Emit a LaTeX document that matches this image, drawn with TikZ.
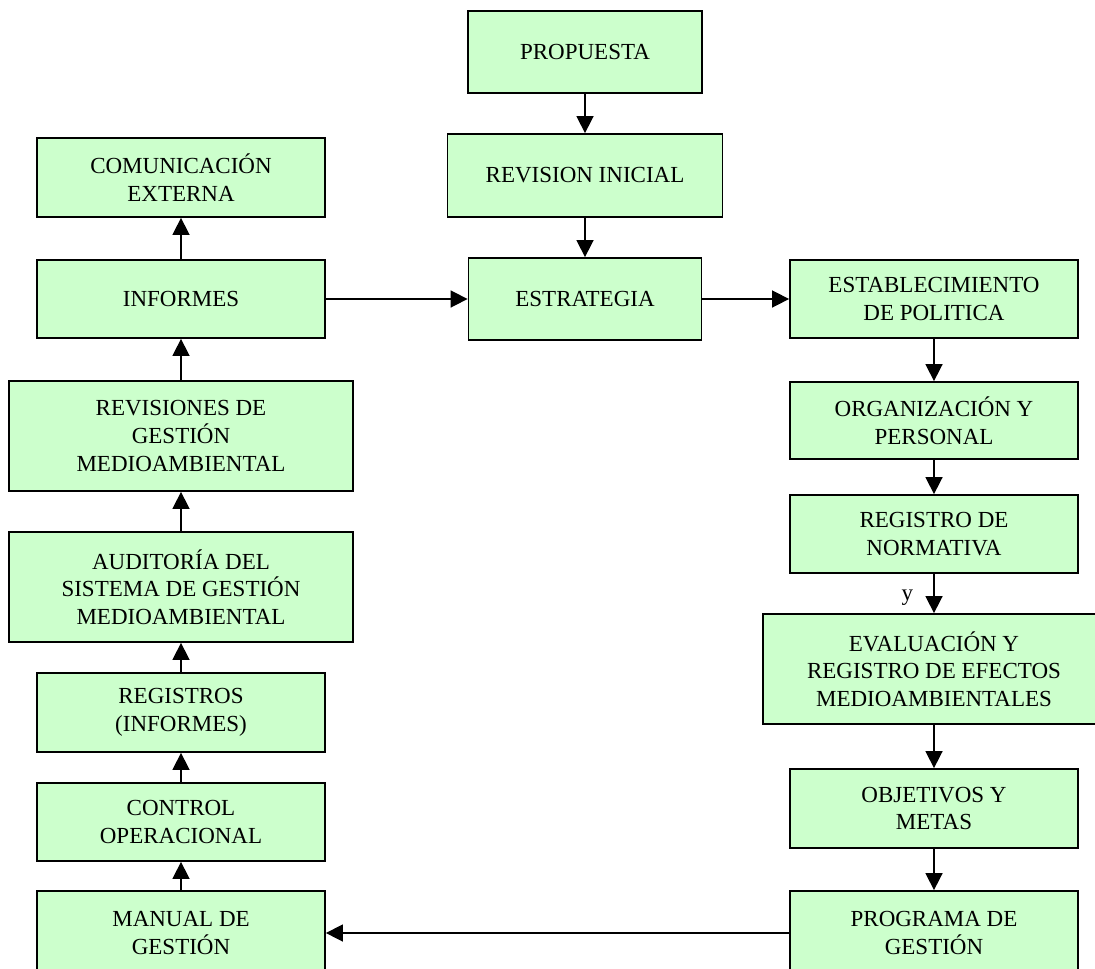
\documentclass[tikz,border=0pt]{standalone}
\usepackage{fontspec}
\setmainfont{Liberation Serif}
\usetikzlibrary{arrows.meta}
\definecolor{boxgreen}{HTML}{CCFFCC}
\tikzset{
  stagefont/.style={font=\fontsize{23}{27.7}\selectfont},
  stage/.style={draw=black, fill=boxgreen, line width=1.8pt, align=center,
    inner sep=2pt, stagefont},
  w1/.style={minimum width=288pt},
  w2/.style={minimum width=344pt},
  flow/.style={line width=1.6pt, -{Triangle[length=17pt,width=17pt]}}
}
\begin{document}
\begin{tikzpicture}[x=1pt, y=-1pt]
\useasboundingbox (0,0) rectangle (1095,969);
\fill[white] (0,0) rectangle (1095,969);
\clip (0,0) rectangle (1095,969);

% central column
\node[stage, minimum width=234pt, minimum height=82pt] (prop) at (585,52) {PROPUESTA};
\node[stage, minimum width=275pt, minimum height=83pt] (revi) at (585,175.5) {REVISION INICIAL};
\node[stage, minimum width=233pt, minimum height=82pt] (estr) at (585,299) {ESTRATEGIA};

% left column (read upwards)
\node[stage, w1, minimum height=79pt] (comu) at (181,177.5) {COMUNICACIÓN\\EXTERNA};
\node[stage, w1, minimum height=78pt] (info) at (181,299) {INFORMES};
\node[stage, w2, minimum height=110pt] (revs) at (181,436) {REVISIONES DE\\GESTIÓN\\MEDIOAMBIENTAL};
\node[stage, w2, minimum height=110pt] (audi) at (181,587) {AUDITORÍA DEL\\SISTEMA DE GESTIÓN\\MEDIOAMBIENTAL};
\node[stage, w1, minimum height=79pt] (regs) at (181,712.5) {REGISTROS\\(INFORMES)};
\node[stage, w1, minimum height=78pt] (ctrl) at (181,822) {CONTROL\\OPERACIONAL};
\node[stage, w1, minimum height=84pt] (manu) at (181,933) {MANUAL DE\\GESTIÓN};

% right column (read downwards)
\node[stage, w1, minimum height=78pt] (esta) at (934,299) {ESTABLECIMIENTO\\DE POLITICA};
\node[stage, w1, minimum height=77pt] (orga) at (934,420.5) {ORGANIZACIÓN Y\\PERSONAL};
\node[stage, w1, minimum height=78pt] (norm) at (934,534) {REGISTRO DE\\NORMATIVA};
\node[stage, minimum width=342pt, minimum height=110pt] (eval) at (934,669) {EVALUACIÓN Y\\REGISTRO DE EFECTOS\\MEDIOAMBIENTALES};
\node[stage, w1, minimum height=79pt] (obje) at (934,808.5) {OBJETIVOS Y\\METAS};
\node[stage, w1, minimum height=84pt] (prog) at (934,933) {PROGRAMA DE\\GESTIÓN};

% connectors
\draw[flow] (prop) -- (revi);
\draw[flow] (revi) -- (estr);
\draw[flow] (info) -- (estr);
\draw[flow] (estr) -- (esta);

\draw[flow] (info) -- (comu);
\draw[flow] (revs) -- (info);
\draw[flow] (audi) -- (revs);
\draw[flow] (regs) -- (audi);
\draw[flow] (ctrl) -- (regs);
\draw[flow] (manu) -- (ctrl);

\draw[flow] (esta) -- (orga);
\draw[flow] (orga) -- (norm);
\draw[flow] (norm) -- node[pos=0.61, left=20pt, inner sep=0pt, stagefont] (ylab) {y} (eval);
\draw[flow] (eval) -- (obje);
\draw[flow] (obje) -- (prog);
\draw[flow] (prog) -- (manu);
\end{tikzpicture}
\end{document}
